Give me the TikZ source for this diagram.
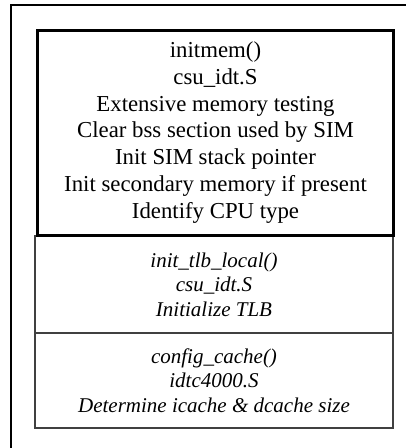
\documentclass[tikz,border=0pt]{standalone}
\usepackage{fontspec}
\setmainfont{Liberation Serif}
\begin{document}
\begin{tikzpicture}[x=1pt,y=-1pt,
  mainbox/.style={draw=black, line width=3pt, align=center, inner sep=0pt,
    minimum width=356pt, minimum height=205pt,
    font=\fontsize{22.8}{26.7}\selectfont},
  subbox/.style={draw=black!75, line width=1.2pt, align=center, inner sep=0pt,
    minimum width=358pt, font=\itshape\fontsize{21}{24.5}\selectfont},
  frameline/.style={line width=2.5pt}]
\useasboundingbox (0,0) rectangle (406,448);
\coordinate (fbl) at (11,448);
\coordinate (ftl) at (11,5);
\coordinate (ftr) at (406,5);
\draw[frameline] (fbl) -- (ftl) -- (ftr);
\node[subbox, minimum height=97pt] (tlb) at (214,284.5)
  {init\_tlb\_local()\\csu\_idt.S\\Initialize TLB};
\node[subbox, minimum height=95pt] (cache) at (214,380.5)
  {config\_cache()\\idtc4000.S\\Determine icache \& dcache size};
\node[mainbox] (mem) at (215.5,132.5)
  {initmem()\\csu\_idt.S\\Extensive memory testing\\Clear bss section used by SIM\\Init SIM stack pointer\\Init secondary memory if present\\Identify CPU type};
\end{tikzpicture}
\end{document}
